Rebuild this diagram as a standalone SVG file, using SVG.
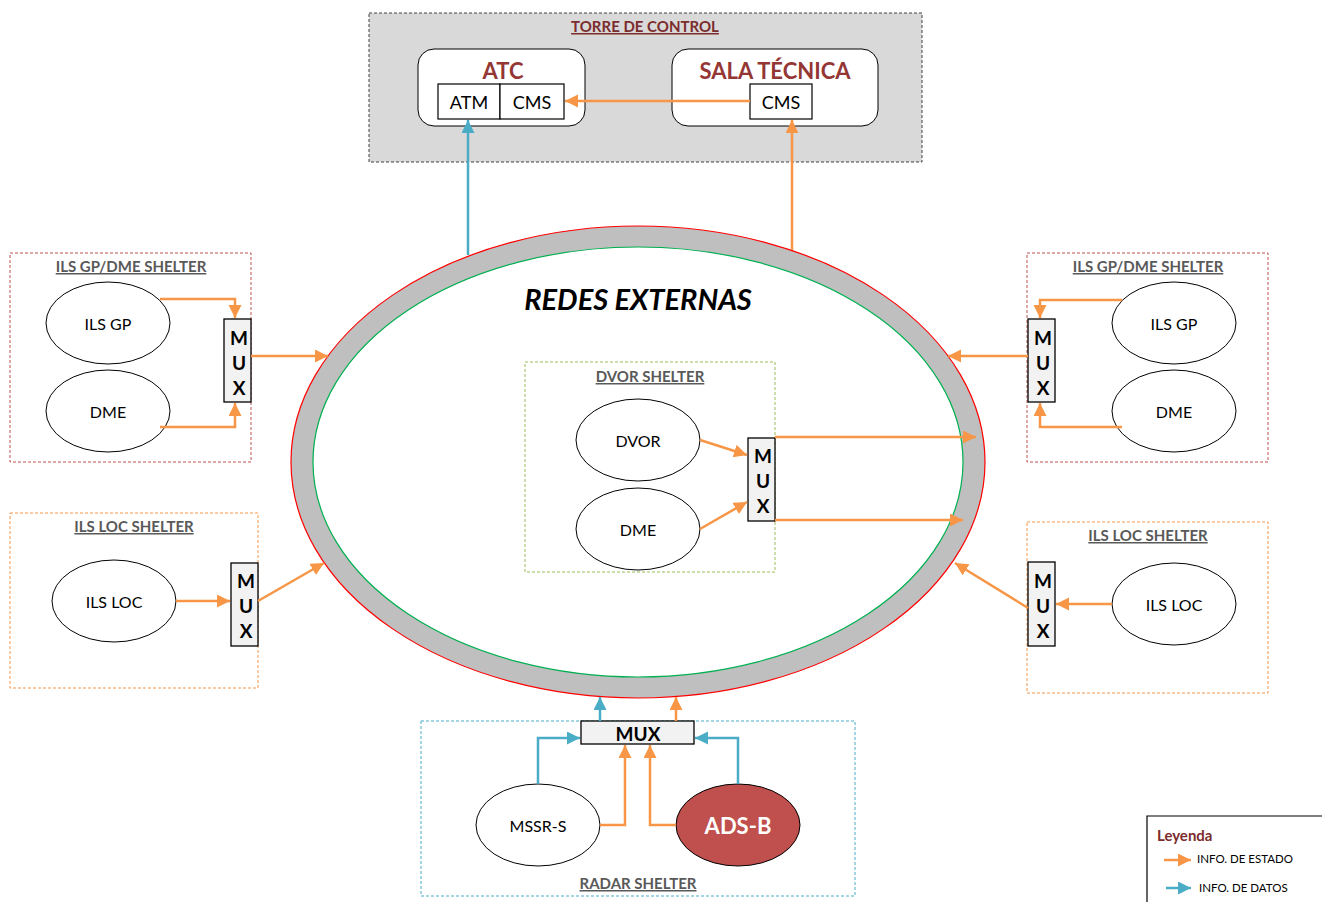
<svg xmlns="http://www.w3.org/2000/svg" width="1322" height="902" viewBox="0 0 1322 902">
<style>
.t{font-family:Lato,"Open Sans","Liberation Sans",sans-serif}
.lbl{font-family:Lato,"Open Sans","Liberation Sans",sans-serif;font-size:16px;fill:#000;text-anchor:middle;dominant-baseline:central}
.big{font-size:18px}
.st{font-family:Lato,"Open Sans","Liberation Sans",sans-serif;font-size:15px;font-weight:bold;fill:#595959;text-anchor:middle;text-decoration:underline}
.ell{fill:#fff;stroke:#000;stroke-width:1}
.mux{fill:#f2f2f2;stroke:#000;stroke-width:1.3}
.mx{font-family:Lato,"Open Sans","Liberation Sans",sans-serif;font-size:19px;font-weight:bold;fill:#000;text-anchor:middle;dominant-baseline:central}
.o{fill:none;stroke:#f79646;stroke-width:2.5;marker-end:url(#ao)}
.b{fill:none;stroke:#4bacc6;stroke-width:2.5;marker-end:url(#ab)}
.box{fill:#fff;stroke:#000;stroke-width:1.2}
</style>
<defs>
<marker id="ao" markerUnits="userSpaceOnUse" markerWidth="16" markerHeight="16" refX="13" refY="6.5" orient="auto"><path d="M0,0 L13,6.5 L0,13 Z" fill="#f79646"/></marker>
<marker id="ab" markerUnits="userSpaceOnUse" markerWidth="16" markerHeight="16" refX="13" refY="6.5" orient="auto"><path d="M0,0 L13,6.5 L0,13 Z" fill="#4bacc6"/></marker>
</defs>
<rect width="1322" height="902" fill="#fff"/>

<!-- Ring -->
<g id="redes">
<ellipse cx="638" cy="462" rx="347" ry="236" fill="#bfbfbf" stroke="#ff0000" stroke-width="1.2"/>
<ellipse cx="638" cy="462" rx="325" ry="215" fill="#fff" stroke="#00b050" stroke-width="1.2"/>
<text x="638" y="310" class="t" font-size="29" font-weight="bold" font-style="italic" text-anchor="middle" fill="#000">REDES EXTERNAS</text>
</g>

<!-- Torre de control -->
<g id="torre">
<rect x="369" y="13" width="553" height="149" fill="#d9d9d9" stroke="#404040" stroke-width="1" stroke-dasharray="3,2"/>
<text x="645" y="32" class="t" font-size="15" font-weight="bold" fill="#7b2c2c" text-anchor="middle" text-decoration="underline">TORRE DE CONTROL</text>
</g>
<g id="atc">
<rect x="418" y="49" width="167" height="77" rx="16" fill="#fff" stroke="#000" stroke-width="1"/>
<text x="503" y="79" class="t" font-size="22" font-weight="bold" fill="#943634" text-anchor="middle">ATC</text>
<rect x="438" y="84" width="62" height="35" class="box"/>
<rect x="500" y="84" width="64" height="35" class="box"/>
<text x="469" y="102" class="lbl big">ATM</text>
<text x="532" y="102" class="lbl big">CMS</text>
</g>
<g id="sala">
<rect x="672" y="49" width="206" height="77" rx="16" fill="#fff" stroke="#000" stroke-width="1"/>
<text x="775" y="79" class="t" font-size="22" font-weight="bold" fill="#943634" text-anchor="middle">SALA TÉCNICA</text>
<rect x="750" y="84" width="62" height="35" class="box"/>
<text x="781" y="102" class="lbl big">CMS</text>
</g>

<!-- Left ILS GP/DME -->
<g id="gp-left">
<rect x="10" y="253" width="241" height="209" fill="none" stroke="#c0504d" stroke-width="1" stroke-dasharray="3,2"/>
<text x="131" y="272" class="st">ILS GP/DME SHELTER</text>
<ellipse cx="108" cy="323" rx="62" ry="41" class="ell"/>
<text x="108" y="323" class="lbl">ILS GP</text>
<ellipse cx="108" cy="411" rx="62" ry="41" class="ell"/>
<text x="108" y="411" class="lbl">DME</text>
<rect x="224" y="319" width="27" height="83" class="mux"/>
<text x="239" y="337" class="mx">M</text><text x="239" y="362" class="mx">U</text><text x="239" y="387" class="mx">X</text>
</g>

<!-- Right ILS GP/DME -->
<g id="gp-right">
<rect x="1027" y="253" width="241" height="209" fill="none" stroke="#c0504d" stroke-width="1" stroke-dasharray="3,2"/>
<text x="1148" y="272" class="st">ILS GP/DME SHELTER</text>
<ellipse cx="1174" cy="323" rx="62" ry="41" class="ell"/>
<text x="1174" y="323" class="lbl">ILS GP</text>
<ellipse cx="1174" cy="411" rx="62" ry="41" class="ell"/>
<text x="1174" y="411" class="lbl">DME</text>
<rect x="1028" y="319" width="27" height="83" class="mux"/>
<text x="1043" y="337" class="mx">M</text><text x="1043" y="362" class="mx">U</text><text x="1043" y="387" class="mx">X</text>
</g>

<!-- Left ILS LOC -->
<g id="loc-left">
<rect x="10" y="513" width="248" height="175" fill="none" stroke="#f79646" stroke-width="1" stroke-dasharray="3,2"/>
<text x="134" y="532" class="st">ILS LOC SHELTER</text>
<ellipse cx="114" cy="601" rx="62" ry="41" class="ell"/>
<text x="114" y="601" class="lbl">ILS LOC</text>
<rect x="231" y="563" width="27" height="83" class="mux"/>
<text x="246" y="580" class="mx">M</text><text x="246" y="605" class="mx">U</text><text x="246" y="630" class="mx">X</text>
</g>

<!-- Right ILS LOC -->
<g id="loc-right">
<rect x="1027" y="522" width="241" height="171" fill="none" stroke="#f79646" stroke-width="1" stroke-dasharray="3,2"/>
<text x="1148" y="541" class="st">ILS LOC SHELTER</text>
<ellipse cx="1174" cy="604" rx="62" ry="41" class="ell"/>
<text x="1174" y="604" class="lbl">ILS LOC</text>
<rect x="1028" y="562" width="27" height="84" class="mux"/>
<text x="1043" y="580" class="mx">M</text><text x="1043" y="605" class="mx">U</text><text x="1043" y="630" class="mx">X</text>
</g>

<!-- DVOR -->
<g id="dvor">
<rect x="525" y="362" width="250" height="210" fill="none" stroke="#9bbb59" stroke-width="1" stroke-dasharray="3,2"/>
<text x="650" y="382" class="st">DVOR SHELTER</text>
<ellipse cx="638" cy="440" rx="62" ry="41" class="ell"/>
<text x="638" y="440" class="lbl">DVOR</text>
<ellipse cx="638" cy="529" rx="62" ry="41" class="ell"/>
<text x="638" y="529" class="lbl">DME</text>
<rect x="748" y="438" width="27" height="83" class="mux"/>
<text x="763" y="455" class="mx">M</text><text x="763" y="480" class="mx">U</text><text x="763" y="505" class="mx">X</text>
</g>

<!-- Radar -->
<g id="radar">
<rect x="421" y="721" width="434" height="175" fill="none" stroke="#4bacc6" stroke-width="1" stroke-dasharray="3,2"/>
<text x="638" y="889" class="st">RADAR SHELTER</text>
<rect x="581" y="721" width="113" height="23" class="mux"/>
<text x="638" y="733" class="mx">MUX</text>
<ellipse cx="538" cy="825" rx="62" ry="41" class="ell"/>
<text x="538" y="825" class="lbl">MSSR-S</text>
<ellipse cx="738" cy="825" rx="62" ry="41" fill="#c0504d" stroke="#000" stroke-width="1"/>
<text x="738" y="825" class="t" font-size="22" font-weight="bold" fill="#fff" text-anchor="middle" dominant-baseline="central">ADS-B</text>
</g>

<!-- Legend -->
<g id="leyenda">
<polyline points="1147,902 1147,816 1322,816" fill="none" stroke="#000" stroke-width="1.2"/>
<text x="1157" y="841" class="t" font-size="15" font-weight="bold" fill="#7b2c2c">Leyenda</text>
<line x1="1164" y1="860" x2="1191" y2="860" class="o"/>
<text x="1197" y="863" class="t" font-size="11.5" fill="#000">INFO. DE ESTADO</text>
<line x1="1166" y1="888" x2="1191" y2="888" class="b"/>
<text x="1199" y="892" class="t" font-size="11.5" fill="#000">INFO. DE DATOS</text>
</g>

<!-- Connectors -->
<g id="connectors">
<line x1="750" y1="101" x2="565" y2="101" class="o"/>
<line x1="468" y1="255" x2="468" y2="120" class="b"/>
<line x1="792" y1="250" x2="792" y2="120" class="o"/>

<polyline points="160,299 235,299 235,318" class="o"/>
<polyline points="160,427 235,427 235,403" class="o"/>
<line x1="251" y1="356" x2="328" y2="356" class="o"/>

<polyline points="1122,300 1040,300 1040,318" class="o"/>
<polyline points="1122,427 1040,427 1040,403" class="o"/>
<line x1="1028" y1="356" x2="948" y2="356" class="o"/>

<line x1="176" y1="601" x2="230" y2="601" class="o"/>
<line x1="258" y1="601" x2="324" y2="563" class="o"/>

<line x1="1112" y1="604" x2="1056" y2="604" class="o"/>
<line x1="1028" y1="608" x2="955" y2="563" class="o"/>

<line x1="700" y1="440" x2="747" y2="455" class="o"/>
<line x1="700" y1="529" x2="747" y2="502" class="o"/>
<line x1="775" y1="437" x2="976" y2="437" class="o"/>
<line x1="775" y1="520" x2="963" y2="520" class="o"/>

<polyline points="538,784 538,738 580,738" class="b"/>
<polyline points="600,825 625,825 625,745" class="o"/>
<polyline points="676,825 650,825 650,745" class="o"/>
<polyline points="738,784 738,738 695,738" class="b"/>
<line x1="600" y1="721" x2="600" y2="697" class="b"/>
<line x1="676" y1="721" x2="676" y2="697" class="o"/>
</g>
</svg>
